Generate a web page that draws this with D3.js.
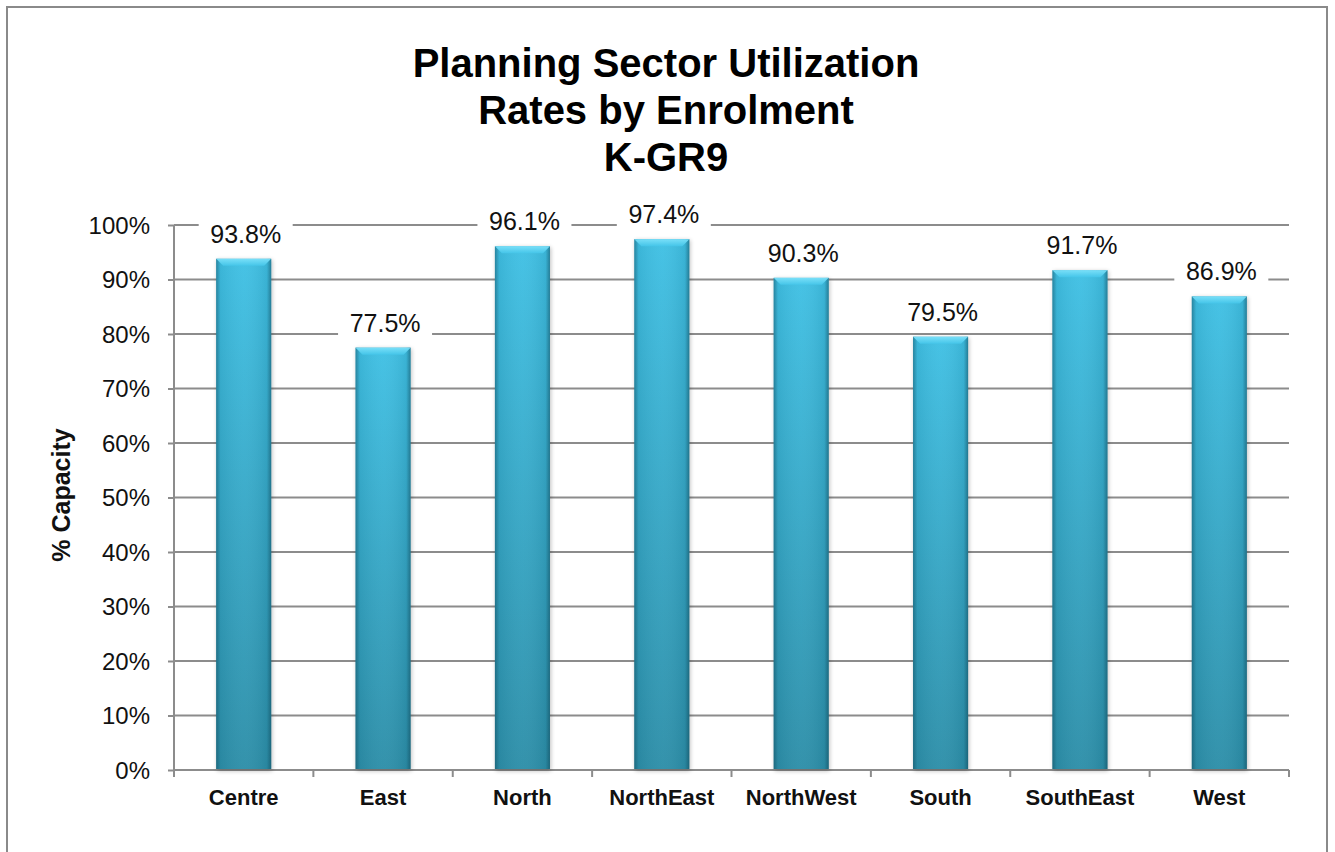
<!DOCTYPE html>
<html><head><meta charset="utf-8">
<script src="https://cdn.jsdelivr.net/npm/d3@7"></script>
<style>body{margin:0;background:#fff;}svg{display:block;font-family:"Liberation Sans",Arial,sans-serif;}</style>
</head><body><svg id="c" width="1335" height="852"></svg>
<script>
const categories = ["Centre","East","North","NorthEast","NorthWest","South","SouthEast","West"];
const values = [93.8,77.5,96.1,97.4,90.3,79.5,91.7,86.9];
const yTicks = [0,10,20,30,40,50,60,70,80,90,100];
const titleLines = ["Planning Sector Utilization","Rates by Enrolment","K-GR9"];
const yTitle = "% Capacity";

const svg = d3.select("#c");
const W=1335,H=852;
svg.append("rect").attr("x",0).attr("y",0).attr("width",W).attr("height",H).attr("fill","#fff");
svg.append("rect").attr("x",7).attr("y",7).attr("width",1320).attr("height",900).attr("fill","none").attr("stroke","#8a8a8a").attr("stroke-width",2);

const m={l:174,r:1289,t:225,b:770};
const x=d3.scaleBand().domain(categories).range([m.l,m.r]).paddingInner(0.605).paddingOuter(0.3025);
const y=d3.scaleLinear().domain([0,100]).range([m.b,m.t]);

const defs=svg.append("defs");
const gv=defs.append("linearGradient").attr("id","gv").attr("x1",0).attr("y1",0).attr("x2",0).attr("y2",1);
gv.append("stop").attr("offset","0%").attr("stop-color","#3fc0e4");
gv.append("stop").attr("offset","100%").attr("stop-color","#2c8ea8");
const gh=defs.append("linearGradient").attr("id","gh").attr("x1",0).attr("y1",0).attr("x2",1).attr("y2",0);
gh.append("stop").attr("offset","0%").attr("stop-color","#0b3c4c").attr("stop-opacity",0.45);
gh.append("stop").attr("offset","8%").attr("stop-color","#0b3c4c").attr("stop-opacity",0.08);
gh.append("stop").attr("offset","50%").attr("stop-color","#ffffff").attr("stop-opacity",0.04);
gh.append("stop").attr("offset","92%").attr("stop-color","#0b3c4c").attr("stop-opacity",0.1);
gh.append("stop").attr("offset","100%").attr("stop-color","#0b3c4c").attr("stop-opacity",0.5);
const gb=defs.append("linearGradient").attr("id","gb").attr("x1",0).attr("y1",0).attr("x2",0).attr("y2",1);
gb.append("stop").attr("offset","0%").attr("stop-color","#7fe3fb");
gb.append("stop").attr("offset","100%").attr("stop-color","#45c6ea");
const flt=defs.append("filter").attr("id","sh").attr("x","-20%").attr("y","-5%").attr("width","140%").attr("height","110%");
flt.append("feGaussianBlur").attr("stdDeviation",2);

// gridlines
svg.append("g").selectAll("line").data(yTicks.filter(d=>d>0)).join("line")
  .attr("x1",m.l).attr("x2",m.r).attr("y1",d=>y(d)).attr("y2",d=>y(d))
  .attr("stroke","#8c8c8c").attr("stroke-width",2);

// y axis
const ya=svg.append("g").attr("transform",`translate(${m.l},0)`)
  .call(d3.axisLeft(y).tickValues(yTicks).tickFormat(d=>d+"%").tickSize(6).tickPadding(18));
ya.select(".domain").attr("stroke","#8c8c8c").attr("stroke-width",2).attr("d",`M0,${m.t}V${m.b}`);
ya.selectAll(".tick line").attr("stroke","#8c8c8c").attr("stroke-width",2);
ya.selectAll(".tick text").attr("font-size",24).attr("fill","#111").attr("font-family","Liberation Sans, Arial, sans-serif").attr("dy","0.35em");

// x axis
const xa=svg.append("g").attr("transform",`translate(0,${m.b})`)
  .call(d3.axisBottom(x).tickSize(0).tickPadding(19));
xa.select(".domain").attr("stroke","#8c8c8c").attr("stroke-width",2).attr("d",`M${m.l},0H${m.r}`);
xa.selectAll(".tick text").attr("font-size",22).attr("font-weight","bold").attr("fill","#111").attr("font-family","Liberation Sans, Arial, sans-serif");
const bounds=d3.range(categories.length+1).map(i=>m.l+i*x.step());
xa.append("g").selectAll("line").data(bounds).join("line")
  .attr("x1",d=>d).attr("x2",d=>d).attr("y1",0).attr("y2",7).attr("stroke","#8c8c8c").attr("stroke-width",2);

// bars
const data=categories.map((c,i)=>({c,v:values[i]}));
const bars=svg.append("g").selectAll("g").data(data).join("g");
bars.append("rect").attr("x",d=>x(d.c)+1).attr("y",d=>y(d.v)+1).attr("width",x.bandwidth()).attr("height",d=>y(0)-y(d.v))
  .attr("fill","#000").attr("opacity",0.25).attr("filter","url(#sh)");
bars.append("rect").attr("x",d=>x(d.c)).attr("y",d=>y(d.v)).attr("width",x.bandwidth()).attr("height",d=>y(0)-y(d.v)-1).attr("fill","url(#gv)");
bars.append("rect").attr("x",d=>x(d.c)).attr("y",d=>y(d.v)).attr("width",x.bandwidth()).attr("height",d=>y(0)-y(d.v)-1).attr("fill","url(#gh)");
bars.append("path").attr("d",d=>{const x0=x(d.c),x1=x0+x.bandwidth(),t=y(d.v),b=7;
  return `M${x0},${t}L${x1},${t}L${x1-b},${t+b}L${x0+b},${t+b}Z`;}).attr("fill","url(#gb)").attr("opacity",0.9);

// value labels
const lab=svg.append("g").selectAll("g").data(data).join("g")
  .attr("transform",d=>`translate(${x(d.c)+x.bandwidth()/2+2},${y(d.v)-16})`);
lab.append("rect").attr("x",-47).attr("y",-25).attr("width",94).attr("height",32).attr("fill","#fff");
lab.append("text").attr("text-anchor","middle").attr("font-size",25).attr("fill","#111")
  .text(d=>d.v.toFixed(1)+"%");

// title
svg.append("g").selectAll("text").data(titleLines).join("text")
  .attr("x",666).attr("y",(d,i)=>77+i*47).attr("text-anchor","middle").attr("font-size",40).attr("font-weight","bold").attr("fill","#000").text(d=>d);

// y title
svg.append("text").attr("transform","translate(70,495) rotate(-90)").attr("text-anchor","middle")
  .attr("font-size",25).attr("font-weight","bold").attr("fill","#111").text(yTitle);
</script></body></html>
